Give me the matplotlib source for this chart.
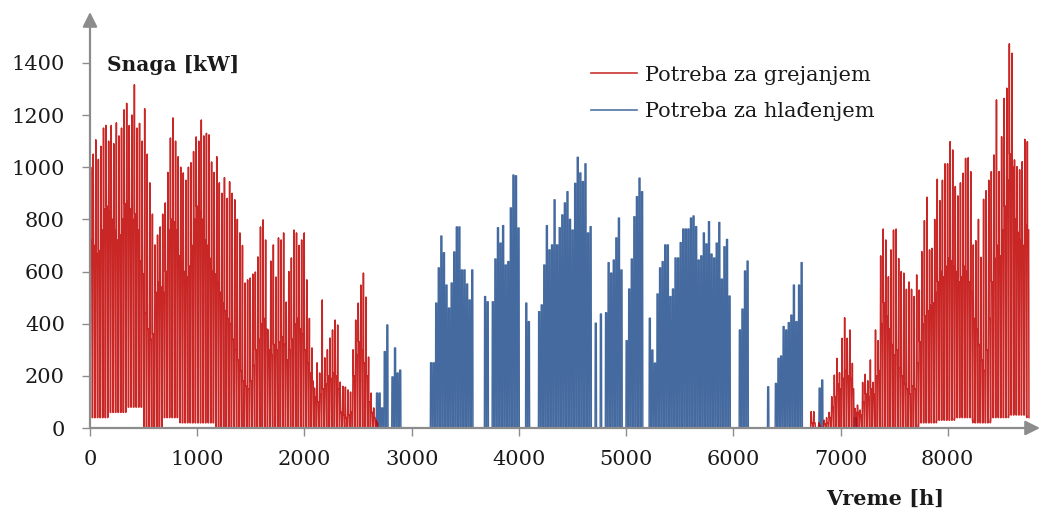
import matplotlib.pyplot as plt

# daily peak heating load [kW], days 0-111 (Jan - Apr)
heat_peak_winter = [
    1000, 1050, 1105, 1030, 1080, 1150, 1160,
    1100, 1160, 1090, 1170, 1120, 1150, 1220,
    1245, 1160, 1200, 1316, 1150, 1168, 1100,
    1224, 1050, 940, 820, 702, 740, 771,
    820, 863, 980, 1112, 1189, 1100, 1040,
    1000, 978, 950, 1000, 1017, 1060, 1116,
    1100, 1181, 1120, 1130, 1124, 1020, 980,
    1040, 940, 900, 960, 880, 944, 900,
    875, 800, 748, 700, 556, 568, 575,
    590, 598, 656, 771, 798, 721, 376,
    640, 702, 579, 729, 721, 748, 483,
    600, 652, 759, 748, 700, 721, 748,
    568, 420, 307, 153, 250, 211, 491,
    269, 300, 345, 376, 414, 395, 176,
    160, 157, 146, 138, 300, 414, 479,
    548, 594, 502, 272, 134, 77, 30,
]
# daily daytime heating load [kW], days 0-111
heat_core_winter = [
    720, 700, 670, 680, 760, 840, 850,
    830, 800, 760, 720, 740, 800, 860,
    870, 840, 800, 820, 760, 640, 590,
    440, 380, 340, 360, 520, 560, 540,
    520, 600, 760, 800, 790, 760, 660,
    640, 600, 580, 620, 700, 800, 850,
    830, 800, 720, 700, 650, 600, 590,
    560, 520, 480, 450, 420, 400, 340,
    300, 260, 220, 180, 160, 150, 180,
    240, 300, 340, 400, 420, 380, 300,
    280, 320, 300, 330, 350, 320, 260,
    300, 340, 400, 420, 380, 360, 300,
    250, 210, 180, 120, 100, 130, 150,
    170, 200, 190, 210, 200, 150, 60,
    50, 40, 50, 60, 200, 280, 330,
    300, 250, 200, 100, 60, 40, 20,
]
# daily peak heating load [kW], days 280-364 (Oct - Dec)
heat_peak_autumn = [
    63, 63, 0, 20, 0, 30, 40,
    60, 120, 203, 267, 212, 344, 423,
    344, 376, 248, 75, 88, 69, 175,
    206, 181, 261, 175, 376, 335, 660,
    763, 721, 580, 683, 759, 763, 650,
    600, 594, 532, 560, 532, 504, 587,
    529, 676, 795, 885, 683, 689, 800,
    954, 872, 950, 1013, 1013, 1098, 1066,
    926, 890, 940, 977, 1034, 1036, 983,
    702, 718, 800, 654, 877, 910, 950,
    983, 1047, 1258, 983, 1117, 1264, 1303,
    1473, 1437, 1028, 1002, 990, 1021, 1107,
    1098,
]
# daily daytime heating load [kW], days 280-364
heat_core_autumn = [
    20, 20, 0, 10, 0, 15, 20,
    40, 80, 120, 170, 150, 190, 220,
    200, 190, 150, 60, 60, 50, 100,
    130, 120, 150, 130, 200, 220, 400,
    480, 430, 380, 320, 280, 300, 230,
    200, 170, 150, 130, 160, 150, 250,
    330, 400, 430, 450, 470, 480, 520,
    560, 600, 580, 620, 650, 640, 620,
    600, 560, 580, 620, 600, 560, 520,
    420, 380, 320, 260, 220, 300, 420,
    560, 650, 700, 660, 760, 850, 950,
    1050, 1000, 800, 750, 720, 700, 780,
    760,
]
# weekly night-time heating load [kW]
heat_low_week = [40, 60, 80, 0, 40, 20, 20] + [0] * 39 + [20, 30, 40, 20, 40, 50, 40]

# daily peak cooling load [kW], starting at day 110
cool_start_day = 110
cool_peak = [
    0, 134, 134, 77, 293, 395, 0, 196, 307, 211, 222,
    0, 0, 0, 0, 0, 0, 0, 0, 0, 0, 0,
    250, 250, 479, 614, 736, 672, 548, 460, 556, 675, 771, 771, 606, 606, 552, 491, 606,
    0, 0, 0, 0,
    504, 484, 0, 484, 648, 768, 709, 776, 625, 638, 844, 970, 967, 767,
    0, 0, 479, 408, 0, 0, 0,
    446, 472, 625, 776, 683, 702, 875, 702, 768, 817, 863, 906, 800, 759, 938,
    1038, 978, 945, 1013, 748, 772, 0, 402, 0, 437, 0,
    442, 634, 594, 644, 729, 805, 606, 0,
    335, 533, 648, 810, 887, 958, 906, 0, 0,
    421, 299, 249, 514, 614, 638, 702, 702, 504, 533, 652, 652, 711, 763, 763,
    763, 805, 813, 772, 644, 660, 748, 706, 791, 667, 652, 709, 788, 571, 695,
    723, 506, 0, 0, 0,
    376, 456, 602, 640, 0, 0, 0, 0, 0, 0, 0,
    158, 0, 0, 171, 267, 276, 389, 376, 404, 433, 548, 408, 548, 634,
    0, 0, 0, 0, 0, 0, 153, 184, 0, 0, 0, 0, 0, 0, 0, 0, 0, 0, 0, 0, 40,
]

gap = [0] * (280 - len(heat_peak_winter))
heat_peak = heat_peak_winter + gap + heat_peak_autumn
heat_core = heat_core_winter + gap + heat_core_autumn
cool_day = [0] * cool_start_day + cool_peak
cool_day = cool_day + [0] * (365 - len(cool_day))

# daily profiles: night low, morning peak, daytime plateau
hx, hy = [], []
for d, p in enumerate(heat_peak):
    h = 24 * d
    if p == 0:
        hx += [h, h + 24]
        hy += [0, 0]
        continue
    core = min(heat_core[d], p)
    low = min(heat_low_week[d // 7], core)
    hx += [h + 1, h + 6, h + 8, h + 18, h + 21]
    hy += [low, p, core, core, low]

cx, cy = [], []
for d, p in enumerate(cool_day):
    h = 24 * d
    if p == 0:
        cx += [h, h + 24]
        cy += [0, 0]
        continue
    cx += [h + 6, h + 8, h + 18, h + 20]
    cy += [0, p, p, 0]

plt.rcParams["font.family"] = ["DejaVu Serif"]

fig = plt.figure(figsize=(10.41, 5.13), dpi=100)
ax = fig.add_axes([90 / 1041, 85 / 513, 950 / 1041, 416 / 513])

red = "#C00000"
blue = "#24508E"

ax.plot(cx, cy, color=blue, lw=1.0, alpha=0.85, label="Potreba za hlađenjem", zorder=2)
ax.plot(hx, hy, color=red, lw=1.1, alpha=0.85, label="Potreba za grejanjem", zorder=3)

ax.set_xlim(0, 8860)
ax.set_ylim(0, 1595)
ax.set_xticks(range(0, 9000, 1000))
ax.set_yticks(range(0, 1600, 200))

for s in ax.spines.values():
    s.set_visible(False)

axis_col = "#8C8C8C"
ax.annotate("", xy=(0, 1), xytext=(0, 0), xycoords="axes fraction",
            arrowprops=dict(arrowstyle="-|>", color=axis_col, lw=1.6,
                            mutation_scale=22, shrinkA=0, shrinkB=0), zorder=5)
ax.annotate("", xy=(1, 0), xytext=(0, 0), xycoords="axes fraction",
            arrowprops=dict(arrowstyle="-|>", color=axis_col, lw=1.6,
                            mutation_scale=22, shrinkA=0, shrinkB=0), zorder=5)

ax.tick_params(axis="both", colors=axis_col, labelcolor="#1a1a1a",
               labelsize=15, length=6, width=1)
ax.tick_params(axis="y", pad=12)
ax.tick_params(axis="x", pad=10)

fig.text(107 / 1041, 1 - 65 / 513, "Snaga [kW]", fontsize=14.5, fontweight="bold",
         va="center", ha="left", color="#1a1a1a")
fig.text(885 / 1041, 1 - 499 / 513, "Vreme [h]", fontsize=15, fontweight="bold",
         va="center", ha="center", color="#1a1a1a")

handles, labels = ax.get_legend_handles_labels()
leg = ax.legend(handles[::-1], labels[::-1], loc="upper left",
                bbox_to_anchor=(572 / 1041, 1 - 47 / 513),
                bbox_transform=fig.transFigure, frameon=False,
                fontsize=15, handlelength=2.2, labelspacing=0.85,
                handletextpad=0.4)
for line in leg.get_lines():
    line.set_linewidth(1.2)
    line.set_alpha(0.8)
for t in leg.get_texts():
    t.set_color("#1a1a1a")

fig.savefig("out.png", dpi=100)
